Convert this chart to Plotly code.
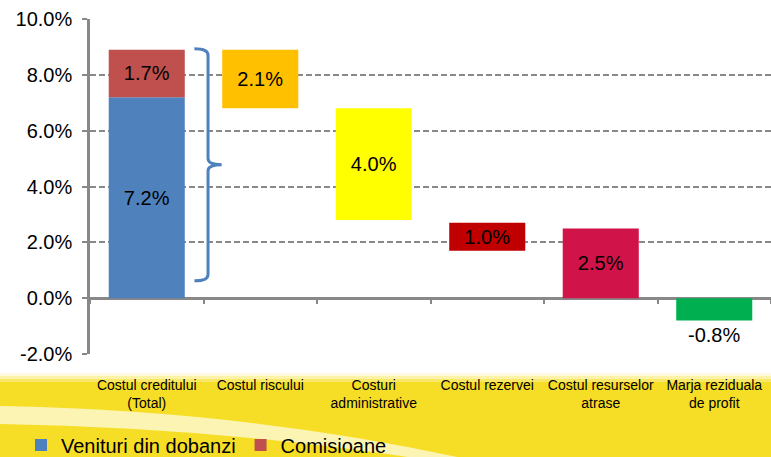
import plotly.graph_objects as go

# data (percent)
categories = ['Costul creditului<br>(Total)', 'Costul riscului', 'Costuri<br>administrative',
              'Costul rezervei', 'Costul resurselor<br>atrase', 'Marja reziduala<br>de profit']
venituri = [7.2]
comisioane = [1.7]
cost_values = [2.1, 4.0, 1.0, 2.5, -0.8]
cost_bases = [6.8, 2.8, 1.7, 0.0, 0.0]
cost_colors = ['#FFC000', '#FFFF00', '#C00000', '#D01349', '#00B050']
y_ticks = [-2, 0, 2, 4, 6, 8, 10]

W, H = 771, 457
ML, MR, MT, MB = 90, 0, 19, 103
GRAY = '#888888'


def px(x):
    return (x - ML) / (W - ML - MR)


def py(y):
    return (H - MB - y) / (H - MT - MB)


fig = go.Figure()

fig.add_trace(go.Bar(x=categories[:1], y=venituri, base=[0], name='Venituri din dobanzi',
                     marker=dict(color='#4F81BD', line=dict(width=0)), width=0.67,
                     text=['%.1f%%' % v for v in venituri], textposition='inside',
                     insidetextanchor='middle', constraintext='none',
                     textfont=dict(size=20, color='black')))
fig.add_trace(go.Bar(x=categories[:1], y=comisioane, base=venituri, name='Comisioane',
                     marker=dict(color='#C0504D', line=dict(width=0)), width=0.67,
                     text=['%.1f%%' % v for v in comisioane], textposition='inside',
                     insidetextanchor='middle', constraintext='none',
                     textfont=dict(size=20, color='black')))
fig.add_trace(go.Bar(x=categories[1:], y=cost_values, base=cost_bases, showlegend=False,
                     marker=dict(color=cost_colors, line=dict(width=0)), width=0.67,
                     text=['%.1f%%' % v for v in cost_values],
                     textposition=['inside'] * 4 + ['outside'],
                     insidetextanchor='middle', constraintext='none',
                     textfont=dict(size=20, color='black'), cliponaxis=False))
# helper trace for the small ticks on the zero line
fig.add_trace(go.Scatter(x=categories, y=[None] * 6, xaxis='x2', showlegend=False,
                         hoverinfo='skip'))

shapes = []
# yellow band at the bottom with a soft top edge
shapes.append(dict(type='rect', xref='paper', yref='paper', x0=px(-5), x1=px(W + 5),
                   y0=py(382), y1=py(H + 5), fillcolor='#F7DE26', line=dict(width=0), layer='below'))
for top, bot, op in [(379, 382, 0.7), (376, 379, 0.4), (373, 376, 0.15)]:
    shapes.append(dict(type='rect', xref='paper', yref='paper', x0=px(-5), x1=px(W + 5),
                       y0=py(top), y1=py(bot), fillcolor='#F7DE26', opacity=op,
                       line=dict(width=0), layer='below'))
# white swoosh
sw = 'M %f,%f Q %f,%f %f,%f L %f,%f Q %f,%f %f,%f Z' % (
    px(-5), py(406), px(250), py(410), px(480), py(H + 5),
    px(440), py(H + 5), px(230), py(428), px(-5), py(424))
shapes.append(dict(type='path', xref='paper', yref='paper', path=sw, fillcolor='white',
                   opacity=0.65, line=dict(width=0), layer='below'))
# curly bracket next to the first bar
br = 'M 0.42,8.93 Q 0.54,8.93 0.54,8.7 L 0.54,5.0 Q 0.54,4.78 0.66,4.78 ' \
     'Q 0.54,4.78 0.54,4.56 L 0.54,0.85 Q 0.54,0.62 0.42,0.62'
shapes.append(dict(type='path', xref='x', yref='y', path=br,
                   line=dict(color='#4F81BD', width=3)))

fig.update_layout(
    width=W, height=H,
    margin=dict(l=ML, r=MR, t=MT, b=MB, autoexpand=False),
    paper_bgcolor='white', plot_bgcolor='rgba(0,0,0,0)',
    barmode='overlay',
    font=dict(family='Liberation Sans, Arial', color='black'),
    shapes=shapes,
    showlegend=True,
    legend=dict(orientation='h', x=px(21), xanchor='left', y=py(445), yanchor='middle',
                bgcolor='rgba(0,0,0,0)', font=dict(size=20), itemclick=False),
    xaxis=dict(type='category', categoryorder='array', categoryarray=categories,
               range=[-0.5, 5.5], showline=False, showgrid=False,
               ticks='outside', ticklen=18, tickcolor='rgba(0,0,0,0)',
               tickfont=dict(size=14)),
    xaxis2=dict(type='category', categoryorder='array', categoryarray=categories,
                range=[-0.5, 5.5], overlaying='x', anchor='free', position=py(297),
                tickson='boundaries', ticks='outside', ticklen=6, tickwidth=2,
                tickcolor=GRAY, showticklabels=False, showgrid=False, showline=False),
    yaxis=dict(range=[-2, 10], tickvals=y_ticks, ticktext=['%.1f%%' % v for v in y_ticks],
               showgrid=True, gridcolor=GRAY, gridwidth=1.5, griddash='6px,3px',
               zeroline=True, zerolinecolor=GRAY, zerolinewidth=2.5,
               showline=True, linecolor=GRAY, linewidth=2.5,
               ticks='outside', ticklen=5, tickwidth=2, tickcolor=GRAY,
               ticklabelstandoff=6, tickfont=dict(size=20)),
)

fig.write_html('out.html', config={'displayModeBar': False},
               post_script="document.body.style.margin='0';")
